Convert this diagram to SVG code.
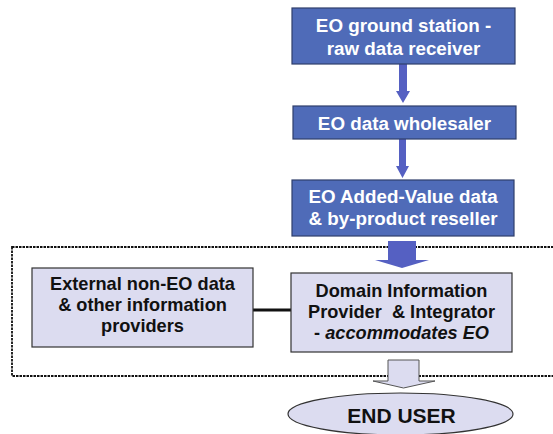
<svg xmlns="http://www.w3.org/2000/svg" width="553" height="434" viewBox="0 0 553 434">
  <style>
    .dark { fill: #4F6BB8; stroke: #2F3E6B; stroke-width: 1.2; }
    .light { fill: #DCDCF0; stroke: #333333; stroke-width: 1.2; }
    .wtxt { font-family: "Liberation Sans", Arial, sans-serif; font-size: 18.8px; font-weight: bold; fill: #FFFFFF; text-anchor: middle; }
    .btxt { font-family: "Liberation Sans", Arial, sans-serif; font-size: 18.2px; font-weight: bold; fill: #111111; text-anchor: middle; }
    .flow { fill: #5560C2; stroke: none; }
    .hollow { fill: #DCDCF0; stroke: #555555; stroke-width: 1; }
    .zone { fill: none; stroke: #111111; stroke-width: 1.8; stroke-dasharray: 2.5 1; }
  </style>
  <rect width="553" height="434" fill="#FFFFFF"/>

  <!-- dashed boundary of the information domain -->
  <rect class="zone" x="12" y="247" width="560" height="129"/>

  <g id="connectors">
    <!-- ground station -> wholesaler -->
    <polygon class="flow" points="399,64 407,64 407,91 410,91 403,103 396,91 399,91"/>
    <!-- wholesaler -> reseller -->
    <polygon class="flow" points="399,139 406,139 406,166 409,166 402.5,178 396,166 399,166"/>
    <!-- reseller -> domain provider -->
    <polygon class="flow" points="388,241 416,241 416,260 429,260 402,268 375,260 388,260"/>
    <!-- external providers link -->
    <line x1="253" y1="310" x2="291" y2="310" stroke="#111111" stroke-width="3"/>
    <!-- domain provider -> end user -->
    <polygon class="hollow" points="388,360 419,360 419,381 435,381 403.5,388 373,381 388,381"/>
  </g>

  <g id="ground-station">
    <rect class="dark" x="292" y="8" width="223" height="56"/>
    <text class="wtxt" x="403.5" y="32">EO ground station -</text>
    <text class="wtxt" x="403.5" y="55">raw data receiver</text>
  </g>

  <g id="wholesaler">
    <rect class="dark" x="293" y="106" width="223" height="33"/>
    <text class="wtxt" x="404.5" y="130">EO data wholesaler</text>
  </g>

  <g id="reseller">
    <rect class="dark" x="292" y="180" width="222" height="56"/>
    <text class="wtxt" x="403" y="203">EO Added-Value data</text>
    <text class="wtxt" x="403" y="225">&amp; by-product reseller</text>
  </g>

  <g id="external-providers">
    <rect class="light" x="32" y="268" width="221" height="79"/>
    <text class="btxt" x="142.5" y="290">External non-EO data</text>
    <text class="btxt" x="142.5" y="311">&amp; other information</text>
    <text class="btxt" x="142.5" y="332">providers</text>
  </g>

  <g id="domain-provider">
    <rect class="light" x="291" y="273" width="221" height="79"/>
    <text class="btxt" x="401.5" y="297">Domain Information</text>
    <text class="btxt" x="401.5" y="318" xml:space="preserve">Provider  &amp; Integrator</text>
    <text class="btxt" x="401.5" y="339">- <tspan font-style="italic">accommodates EO</tspan></text>
  </g>

  <g id="end-user">
    <ellipse class="light" cx="400.5" cy="414" rx="112.5" ry="21"/>
    <text class="btxt" x="401.5" y="423" style="font-size:21px">END USER</text>
  </g>
</svg>
